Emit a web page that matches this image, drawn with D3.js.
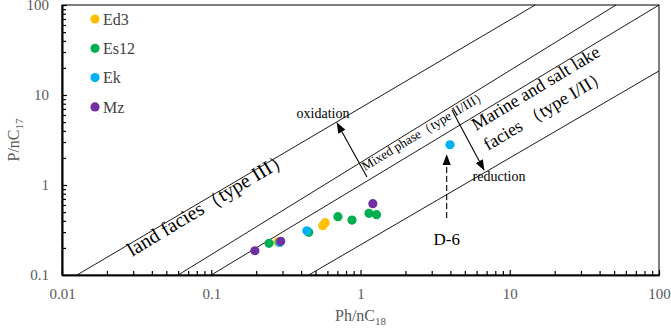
<!DOCTYPE html>
<html>
<head>
<meta charset="utf-8">
<script src="https://cdn.jsdelivr.net/npm/d3@7"></script>
<style>
  body { margin: 0; background: #fff; }
  text { font-family: "Liberation Serif", "Times New Roman", serif; }
</style>
</head>
<body>
<svg id="chart" width="671" height="329"></svg>
<script>
// series / legend
const seriesNames = ['Ed3', 'Es12', 'Ek', 'Mz'];
const seriesColors = ['#ffc000', '#00b050', '#00b0f0', '#7030a0'];

// samples: Ph/nC18 (x) and Pr/nC17 (y)
const pointSeries = ['Ed3', 'Ed3', 'Ed3',
                     'Es12', 'Es12', 'Es12', 'Es12', 'Es12', 'Es12',
                     'Ek', 'Ek', 'Ek',
                     'Mz', 'Mz', 'Mz'];
const pointX = [0.279, 0.559, 0.58,
                0.244, 0.45, 0.706, 0.877, 1.14, 1.28,
                0.287, 0.437, 3.98,
                0.196, 0.292, 1.21];
const pointY = [0.234, 0.353, 0.381,
                0.225, 0.298, 0.445, 0.408, 0.485, 0.468,
                0.23, 0.31, 2.8,
                0.186, 0.237, 0.62];

// facies boundary lines (data space end points)
const boundaryX1 = [0.0126, 0.06, 0.1, 0.45];
const boundaryY1 = [0.1, 0.1, 0.1, 0.1];
const boundaryX2 = [14.8, 51.5, 100, 100];
const boundaryY2 = [100, 100, 100, 18.5];

// axis ticks
const xTickValues = [0.01, 0.1, 1, 10, 100];
const yTickValues = [0.1, 1, 10, 100];
const xTickLabels = ['0.01', '0.1', '1', '10', '100'];
const yTickLabels = ['0.1', '1', '10', '100'];

const margin = {top: 5, right: 12, bottom: 54, left: 62};
const width = 671, height = 329;

const svg = d3.select('#chart');

const x = d3.scaleLog().domain([0.01, 100]).range([margin.left, width - margin.right]);
const y = d3.scaleLog().domain([0.1, 100]).range([height - margin.bottom, margin.top]);

// angle of a 1:1 line in screen space
const bandAngle = Math.atan2(y(10) - y(1), x(10) - x(1)) * 180 / Math.PI;

const defs = svg.append('defs');
defs.append('marker')
    .attr('id', 'head')
    .attr('viewBox', '0 -5 12 10')
    .attr('refX', 11)
    .attr('refY', 0)
    .attr('markerWidth', 11)
    .attr('markerHeight', 9)
    .attr('markerUnits', 'userSpaceOnUse')
    .attr('orient', 'auto')
  .append('path')
    .attr('d', 'M0,-4.5L12,0L0,4.5Z')
    .attr('fill', '#000');

// frame (top / right)
svg.append('rect')
    .attr('x', x(0.01)).attr('y', y(100))
    .attr('width', x(100) - x(0.01)).attr('height', y(0.1) - y(100))
    .attr('fill', 'none').attr('stroke', '#000').attr('stroke-width', 1);

// boundary lines
svg.append('g').selectAll('line')
    .data(boundaryX1.map((d, i) => i))
    .join('line')
    .attr('x1', i => x(boundaryX1[i]))
    .attr('y1', i => y(boundaryY1[i]))
    .attr('x2', i => x(boundaryX2[i]))
    .attr('y2', i => y(boundaryY2[i]))
    .attr('stroke', '#000')
    .attr('stroke-width', 0.9);

// axes
let xAxisMajor = d3.axisBottom(x).tickValues(xTickValues)
    .tickFormat((d, i) => xTickLabels[i]).tickSizeInner(-5).tickSizeOuter(0).tickPadding(13);
let xAxisMinor = d3.axisBottom(x).tickValues(x.ticks().filter(d => xTickValues.indexOf(d) == -1))
    .tickFormat('').tickSizeInner(-4).tickSizeOuter(0);
let yAxisMajor = d3.axisLeft(y).tickValues(yTickValues)
    .tickFormat((d, i) => yTickLabels[i]).tickSizeInner(-5).tickSizeOuter(0).tickPadding(13);
let yAxisMinor = d3.axisLeft(y).tickValues(y.ticks().filter(d => yTickValues.indexOf(d) == -1))
    .tickFormat('').tickSizeInner(-4).tickSizeOuter(0);

let gx = svg.append('g').attr('transform', 'translate(0,' + y(0.1) + ')');
gx.call(xAxisMinor);
gx.append('g').call(xAxisMajor);
let gy = svg.append('g').attr('transform', 'translate(' + x(0.01) + ',0)');
gy.call(yAxisMinor);
gy.append('g').call(yAxisMajor);

svg.selectAll('.domain').attr('stroke', '#000').attr('stroke-width', 1.6);
svg.selectAll('.tick line').attr('stroke', '#000').attr('stroke-width', 1.2);
svg.selectAll('.tick text')
    .attr('font-family', '"Liberation Serif", serif')
    .attr('font-size', 15)
    .attr('fill', '#595959');

// axis titles
let xTitle = svg.append('text')
    .attr('x', (x(0.01) + x(100)) / 2)
    .attr('y', 321)
    .attr('text-anchor', 'middle')
    .attr('font-size', 16)
    .attr('fill', '#595959');
xTitle.append('tspan').text('Ph/nC');
xTitle.append('tspan').attr('font-size', 11).attr('dy', 4).text('18');

let yTitle = svg.append('text')
    .attr('transform', 'translate(19,' + ((y(0.1) + y(100)) / 2) + ') rotate(-90)')
    .attr('text-anchor', 'middle')
    .attr('font-size', 16)
    .attr('fill', '#595959');
yTitle.append('tspan').text('P/nC');
yTitle.append('tspan').attr('font-size', 11).attr('dy', 4).text('17');

// arrows
function arrow(x1, y1, x2, y2, dashed) {
    svg.append('line')
        .attr('x1', x(x1)).attr('y1', y(y1))
        .attr('x2', x(x2)).attr('y2', y(y2))
        .attr('stroke', '#000')
        .attr('stroke-width', 1.1)
        .attr('stroke-dasharray', dashed ? '6,3' : null)
        .attr('marker-end', 'url(#head)');
}
arrow(1.105, 1.228, 0.697, 4.88, false);
arrow(4.1, 6.8, 6.72, 1.47, false);
arrow(3.78, 0.43, 3.78, 2.15, true);

// facies labels along the bands
function bandText(px, py, size, lines) {
    let t = svg.append('text')
        .attr('transform', 'translate(' + x(px) + ',' + y(py) + ') rotate(' + bandAngle + ')')
        .attr('font-size', size)
        .attr('fill', '#000');
    lines.forEach((s, i) => {
        t.append('tspan').attr('x', 0).attr('dy', i == 0 ? 0 : '1.3em').text(s);
    });
}
bandText(0.0294, 0.1585, 20, ['land facies（type III）']);
bandText(1.072, 1.43, 13, ['Mixed phase（type II/III）']);
bandText(5.94, 3.98, 18, ['Marine and salt lake', 'facies （type I/II）']);

// plain labels
function plainText(px, py, size, s) {
    svg.append('text')
        .attr('x', x(px)).attr('y', y(py))
        .attr('text-anchor', 'middle')
        .attr('font-size', size)
        .attr('fill', '#000')
        .text(s);
}
plainText(0.561, 5.55, 14, 'oxidation');
plainText(8.47, 1.108, 14, 'reduction');
plainText(3.78, 0.2154, 17, 'D-6');

// points
const color = d3.scaleOrdinal().domain(seriesNames).range(seriesColors);
svg.append('g').selectAll('circle')
    .data(pointX.map((d, i) => i))
    .join('circle')
    .attr('cx', i => x(pointX[i]))
    .attr('cy', i => y(pointY[i]))
    .attr('r', 4.6)
    .attr('fill', i => color(pointSeries[i]));

// legend
let legend = svg.append('g').selectAll('g')
    .data(seriesNames)
    .join('g')
    .attr('transform', (d, i) => 'translate(95,' + (19 + i * 29.3) + ')');
legend.append('circle').attr('r', 4.6).attr('fill', d => color(d));
legend.append('text')
    .attr('x', 8)
    .attr('dy', '0.35em')
    .attr('font-size', 16)
    .attr('fill', '#404040')
    .text(d => d);
</script>
</body>
</html>
